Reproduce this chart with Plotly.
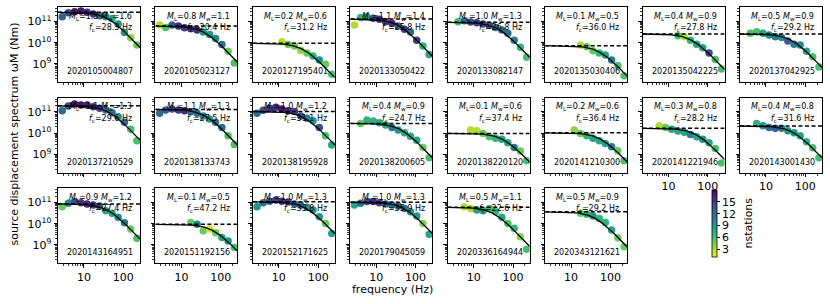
import numpy as np
import plotly.graph_objects as go

# ---------------- data ----------------
FREQS = [2.8, 4.0, 5.8, 8.4, 12.0, 17.3, 25.0, 36.0, 52.0, 74.0, 107.0, 154.0, 222.0]

EVENT_IDS = ["2020105004807", "2020105023127", "2020127195401", "2020133050422",
             "2020133082147", "2020135030406", "2020135042225", "2020137042925",
             "2020137210529", "2020138133743", "2020138195928", "2020138200605",
             "2020138220120", "2020141210300", "2020141221946", "2020143001430",
             "2020143164951", "2020151192156", "2020152171625", "2020179045059",
             "2020336164944", "2020343121621"]
ML = [1.3, 0.8, 0.2, 1.1, 1.0, 0.1, 0.4, 0.5, 1.1, 1.1, 1.0, 0.4,
      0.1, 0.2, 0.3, 0.4, 0.9, 0.1, 1.0, 1.0, 0.5, 0.5]
MW = [1.6, 1.1, 0.6, 1.4, 1.3, 0.5, 0.9, 0.9, 1.3, 1.3, 1.2, 0.9,
      0.6, 0.6, 0.8, 0.8, 1.2, 0.5, 1.3, 1.3, 1.1, 0.9]
# corner frequency printed in each panel
FC = [28.3, 20.4, 31.2, 25.8, 26.8, 36.0, 27.8, 29.2, 29.6, 27.5, 31.1, 24.7,
      37.4, 36.4, 28.2, 31.6, 27.4, 47.2, 33.8, 35.9, 22.6, 29.2]
# corner of the drawn model curve
FC_LINE = [40, 38, 42, 36, 40, 52, 39, 44, 42, 39, 44, 42,
           57, 56, 50, 48, 40, 64, 48, 50, 32, 40]
LOG_OMEGA0 = [11.43, 10.78, 9.97, 11.11, 10.96, 9.86, 10.41, 10.41, 11.29, 11.12, 11.02, 10.46,
              9.99, 10.02, 10.23, 10.34, 10.93, 9.97, 11.03, 11.01, 10.77, 10.56]
FIRST_BAND = [0, 0, 4, 0, 1, 5, 5, 1, 0, 0, 0, 1, 3, 4, 2, 2, 0, 5, 0, 0, 2, 5]

LOG_AMP = [
    [11.22, 11.41, 11.46, 11.49, 11.43, 11.35, 11.27, 11.22, 11.14, 10.88, 10.48, 10.23, 9.89],
    [10.83, 10.72, 10.83, 10.78, 10.70, 10.66, 10.60, 10.50, 10.39, 10.20, 9.92, 9.60, 9.05],
    [10.04, 9.92, 9.85, 9.65, 9.52, 9.37, 9.18, 8.99, 8.51],
    [10.83, 11.19, 11.22, 11.15, 11.10, 10.99, 10.91, 10.78, 10.63, 10.50, 10.12, 9.84, 9.45],
    [10.99, 11.03, 10.97, 10.94, 10.88, 10.82, 10.72, 10.60, 10.44, 10.12, 9.78, 9.31],
    [9.89, 9.81, 9.62, 9.52, 9.42, 9.18, 8.93, 8.44],
    [10.33, 10.28, 10.12, 9.93, 9.76, 9.52, 9.21, 8.76],
    [10.44, 10.52, 10.44, 10.36, 10.28, 10.25, 10.08, 9.93, 9.89, 9.60, 9.34, 8.86],
    [11.06, 11.28, 11.37, 11.33, 11.33, 11.25, 11.17, 11.09, 10.96, 10.77, 10.51, 10.18, 9.64],
    [10.94, 11.09, 11.14, 11.09, 11.06, 11.01, 10.94, 10.81, 10.67, 10.51, 10.27, 9.88, 9.47],
    [10.94, 11.08, 11.17, 11.22, 11.14, 11.06, 11.02, 10.81, 10.70, 10.59, 10.27, 9.88, 9.44],
    [10.46, 10.62, 10.57, 10.49, 10.38, 10.27, 10.15, 10.02, 9.86, 9.67, 9.33, 8.84],
    [10.15, 10.11, 9.99, 9.83, 9.76, 9.71, 9.55, 9.33, 9.16, 8.70],
    [10.15, 9.99, 9.88, 9.76, 9.64, 9.52, 9.36, 9.17, 8.70],
    [10.35, 10.27, 10.18, 10.10, 10.04, 9.94, 9.83, 9.71, 9.55, 9.28, 8.60],
    [10.46, 10.35, 10.27, 10.23, 10.23, 10.11, 10.02, 9.88, 9.60, 9.31, 8.84],
    [10.80, 10.96, 11.04, 10.99, 10.93, 10.88, 10.83, 10.61, 10.49, 10.30, 10.05, 9.75, 9.31],
    [10.06, 9.97, 9.67, 9.75, 9.57, 9.35, 9.18, 8.88],
    [10.80, 10.99, 11.06, 11.11, 11.06, 11.02, 10.93, 10.87, 10.77, 10.64, 10.33, 10.01, 9.54],
    [10.88, 10.96, 11.04, 11.04, 10.99, 10.93, 10.88, 10.83, 10.72, 10.56, 10.36, 10.01, 9.50],
    [10.80, 10.72, 10.64, 10.61, 10.72, 10.56, 10.30, 10.01, 9.78, 9.38, 8.80],
    [10.49, 10.44, 10.36, 10.25, 10.06, 9.70, 9.34, 8.91],
]

NSTATIONS = [
    [13, 14, 17, 17, 16, 15, 12, 10, 8, 9, 9, 4, 5],
    [3, 6, 13, 16, 15, 15, 16, 9, 9, 10, 12, 5, 6],
    [3, 5, 5, 4, 5, 7, 9, 5, 6],
    [3, 7, 8, 14, 16, 15, 16, 12, 15, 12, 15, 7, 8],
    [6, 12, 14, 15, 14, 14, 12, 12, 12, 11, 7, 6],
    [3, 5, 5, 7, 8, 11, 6, 6],
    [6, 3, 7, 8, 8, 14, 6, 6],
    [6, 6, 8, 10, 11, 10, 13, 11, 10, 8, 6, 6],
    [12, 14, 17, 17, 16, 16, 15, 12, 12, 9, 12, 6, 6],
    [12, 13, 14, 15, 16, 12, 12, 10, 9, 12, 12, 6, 6],
    [12, 14, 15, 16, 17, 16, 15, 13, 11, 9, 14, 6, 8],
    [5, 7, 7, 8, 8, 11, 9, 8, 8, 8, 5, 6],
    [3, 3, 5, 6, 7, 8, 8, 11, 5, 6],
    [4, 5, 7, 8, 8, 8, 11, 5, 6],
    [3, 5, 8, 8, 8, 11, 8, 9, 8, 6, 6],
    [7, 9, 12, 13, 11, 9, 9, 8, 7, 6, 6],
    [5, 10, 14, 15, 16, 15, 13, 8, 8, 10, 11, 5, 6],
    [5, 10, 5, 2, 5, 8, 9, 6],
    [9, 12, 14, 15, 16, 15, 13, 12, 10, 9, 9, 5, 8],
    [8, 12, 14, 16, 15, 13, 12, 12, 12, 9, 9, 4, 8],
    [3, 3, 8, 8, 6, 7, 8, 6, 7, 4, 6],
    [5, 7, 9, 7, 7, 8, 5, 5],
]

X_TICKS = [10, 100]
Y_TICKS = [1e9, 1e10, 1e11]
Y_TICK_TEXT = ["10<sup>9</sup>", "10<sup>10</sup>", "10<sup>11</sup>"]
CBAR_TICKS = [3, 6, 9, 12, 15]

# ---------------- layout geometry ----------------
W, H = 830, 304
NCOLS = 8
COL_LEFT0, COL_PITCH, PANEL_W = 58.0, 97.43, 82.0
ROW_TOPS = [7.0, 97.5, 188.0]
PANEL_H = 75.0
XRANGE = [0.34, 2.425]
YRANGE = [8.15, 11.68]
FONT = "DejaVu Sans"

fig = go.Figure()
n_panels = len(EVENT_IDS)
x_minor = [v * d for d in (1, 10, 100) for v in range(2, 10)]
y_minor = [v * 10.0 ** e for e in (8, 9, 10, 11) for v in range(2, 10)]
fgrid = np.logspace(XRANGE[0], XRANGE[1], 120)

annotations = []
for i in range(n_panels):
    r, c = divmod(i, NCOLS)
    ax = "" if i == 0 else str(i + 1)
    xa, ya = "x" + ax, "y" + ax
    x0 = (COL_LEFT0 + c * COL_PITCH) / W
    x1 = (COL_LEFT0 + c * COL_PITCH + PANEL_W) / W
    y1 = 1 - ROW_TOPS[r] / H
    y0 = 1 - (ROW_TOPS[r] + PANEL_H) / H

    k0 = FIRST_BAND[i]
    amps = LOG_AMP[i]
    f = FREQS[k0:k0 + len(amps)]
    fig.add_trace(go.Scatter(
        x=f, y=[10 ** a for a in amps], mode="markers", xaxis=xa, yaxis=ya,
        marker=dict(size=7.5, color=NSTATIONS[i], coloraxis="coloraxis", line=dict(width=0)),
        showlegend=False, hoverinfo="skip"))
    om = 10 ** LOG_OMEGA0[i]
    fig.add_trace(go.Scatter(
        x=fgrid, y=om / (1 + (fgrid / FC_LINE[i]) ** 2), mode="lines", xaxis=xa, yaxis=ya,
        line=dict(color="black", width=1.3), showlegend=False, hoverinfo="skip"))
    fig.add_trace(go.Scatter(
        x=[fgrid[0], fgrid[-1]], y=[om, om], mode="lines", xaxis=xa, yaxis=ya,
        line=dict(color="black", width=1.5, dash="4px,2.5px"), showlegend=False, hoverinfo="skip"))

    bottom = (r == 2) or (r == 1 and c >= 6)
    xdict = dict(type="log", range=XRANGE, domain=[x0, x1], anchor=ya,
                 tickvals=X_TICKS, ticktext=[str(v) for v in X_TICKS], showticklabels=bottom,
                 ticks="outside", ticklen=3.5, tickwidth=1, tickcolor="black",
                 minor=dict(tickvals=x_minor, ticks="outside", ticklen=2, tickwidth=0.8, tickcolor="black"),
                 showline=True, linecolor="black", linewidth=1, mirror=True,
                 showgrid=False, zeroline=False, tickfont=dict(size=11, family=FONT, color="black"))
    ydict = dict(type="log", range=YRANGE, domain=[y0, y1], anchor=xa,
                 tickvals=Y_TICKS, ticktext=Y_TICK_TEXT, showticklabels=(c == 0),
                 ticks="outside", ticklen=3.5, tickwidth=1, tickcolor="black",
                 minor=dict(tickvals=y_minor, ticks="outside", ticklen=2, tickwidth=0.8, tickcolor="black"),
                 showline=True, linecolor="black", linewidth=1, mirror=True,
                 showgrid=False, zeroline=False, tickfont=dict(size=11, family=FONT, color="black"))
    fig.layout["xaxis" + ax] = xdict
    fig.layout["yaxis" + ax] = ydict

    tf = dict(size=8, family=FONT, color="black")
    annotations.append(dict(
        xref=xa + " domain", yref=ya + " domain", x=0.93, y=0.87, xanchor="right", yanchor="middle",
        text=f"<i>M</i><sub>L</sub>={ML[i]:.1f} <i>M</i><sub>w</sub>={MW[i]:.1f}",
        showarrow=False, font=tf))
    annotations.append(dict(
        xref=xa + " domain", yref=ya + " domain", x=0.93, y=0.715, xanchor="right", yanchor="middle",
        text=f"<i>f</i><sub>c</sub>={FC[i]:.1f} Hz", showarrow=False, font=tf))
    annotations.append(dict(
        xref=xa + " domain", yref=ya + " domain", x=0.085, y=0.135, xanchor="left", yanchor="middle",
        text=EVENT_IDS[i], showarrow=False, font=tf))

annotations.append(dict(xref="paper", yref="paper", x=392 / W, y=1 - 289 / H, xanchor="center",
                        yanchor="middle", text="frequency (Hz)", showarrow=False,
                        font=dict(size=11, family=FONT, color="black")))
annotations.append(dict(xref="paper", yref="paper", x=13.5 / W, y=1 - 134 / H, xanchor="center",
                        yanchor="middle", text="source displacement spectrum ωM (Nm)", textangle=-90,
                        showarrow=False, font=dict(size=11, family=FONT, color="black")))
annotations.append(dict(xref="paper", yref="paper", x=748 / W, y=1 - 223.5 / H, xanchor="center",
                        yanchor="middle", text="nstations", textangle=-90,
                        showarrow=False, font=dict(size=11, family=FONT, color="black")))

fig.update_layout(
    width=W, height=H, margin=dict(l=0, r=0, t=0, b=0),
    paper_bgcolor="white", plot_bgcolor="white",
    font=dict(family=FONT, size=11, color="black"),
    annotations=annotations,
    hovermode=False,
    coloraxis=dict(
        colorscale="Viridis", reversescale=True, cmin=1, cmax=18,
        colorbar=dict(x=712 / W, xanchor="left", y=1 - 257 / H, yanchor="bottom",
                      len=67 / H, lenmode="fraction", thickness=5, thicknessmode="pixels",
                      xpad=0, ypad=0, outlinewidth=0.8, outlinecolor="black",
                      tickvals=CBAR_TICKS, ticks="outside", ticklen=3, tickwidth=1, tickcolor="black",
                      tickfont=dict(size=11, family=FONT, color="black"))),
)

fig.write_html("out.html", config={"displayModeBar": False, "staticPlot": True},
               post_script="document.body.style.margin='0';document.body.style.overflow='hidden';")
